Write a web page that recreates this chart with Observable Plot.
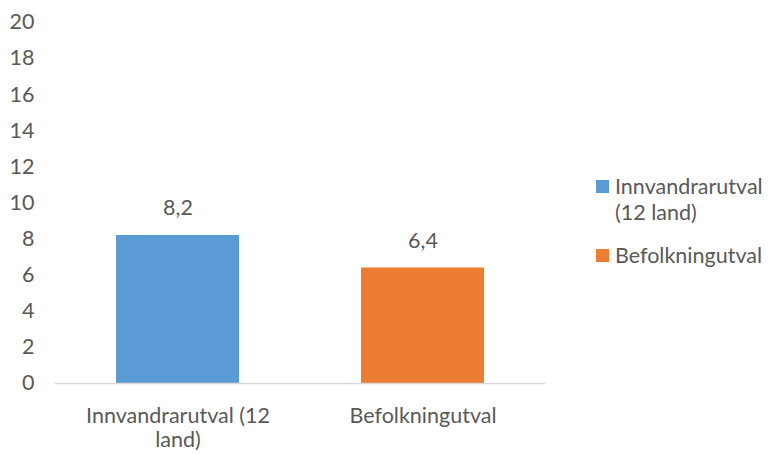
<!DOCTYPE html>
<html>
<head>
<meta charset="utf-8">
<script src="https://cdn.jsdelivr.net/npm/d3@7"></script>
<script src="https://cdn.jsdelivr.net/npm/@observablehq/plot@0.6"></script>
<style>
  html, body { margin: 0; padding: 0; background: #fff; }
  #wrap { position: relative; width: 771px; height: 455px; font-family: Lato, "Open Sans", sans-serif; color: #595959; }
  #legend { position: absolute; left: 596px; top: 173px; font-size: 21.5px; line-height: 26px; white-space: nowrap; }
  .item { display: flex; align-items: flex-start; margin-bottom: 17px; }
  .sw { width: 13px; height: 13px; margin-right: 6px; margin-top: 7px; flex: none; }
</style>
</head>
<body>
<div id="wrap"><div id="chart"></div><div id="legend"></div></div>
<script>
const categories = ["Innvandrarutval (12 land)", "Befolkningutval"];
const values = [8.2, 6.4];
const valueLabels = ["8,2", "6,4"];
const tickLabels = ["Innvandrarutval (12\nland)", "Befolkningutval"];
const legendLabels = ["Innvandrarutval\n(12 land)", "Befolkningutval"];
const colors = ["#5B9BD5", "#ED7D31"];
const yTicks = [0, 2, 4, 6, 8, 10, 12, 14, 16, 18, 20];

const data = categories.map((c, i) => ({cat: c, value: values[i], label: valueLabels[i], tick: tickLabels[i]}));

const fs = 21.5;
const chart = Plot.plot({
  width: 771,
  height: 455,
  marginTop: 22,
  marginBottom: 72,
  marginLeft: 55,
  marginRight: 226,
  style: {fontFamily: "Lato, 'Open Sans', sans-serif", fontSize: fs + "px", color: "#595959", background: "#fff"},
  x: {domain: categories, paddingInner: 0.5, paddingOuter: 0.25, axis: null},
  y: {domain: [0, 20], axis: null},
  color: {domain: categories, range: colors},
  marks: [
    Plot.barY(data, {x: "cat", y: "value", fill: "cat"}),
    Plot.ruleY([0], {stroke: "#D9D9D9", strokeWidth: 1.3}),
    Plot.axisY({ticks: yTicks, tickSize: 0, tickPadding: 21, fontSize: fs, fill: "#595959", label: null}),
    Plot.axisX({tickSize: 0, tickPadding: 22, fontSize: fs, fill: "#595959", label: null, lineHeight: 1.12,
      tickFormat: d => tickLabels[categories.indexOf(d)]}),
    Plot.text(data, {x: "cat", y: "value", text: "label", dy: -27, fontSize: fs, fill: "#595959"})
  ]
});
document.getElementById("chart").appendChild(chart);

const legend = document.getElementById("legend");
legendLabels.forEach((l, i) => {
  const item = document.createElement("div");
  item.className = "item";
  const sw = document.createElement("div");
  sw.className = "sw";
  sw.style.background = colors[i];
  const t = document.createElement("div");
  t.innerHTML = l.replace("\n", "<br>");
  item.appendChild(sw); item.appendChild(t);
  legend.appendChild(item);
});
</script>
</body>
</html>
